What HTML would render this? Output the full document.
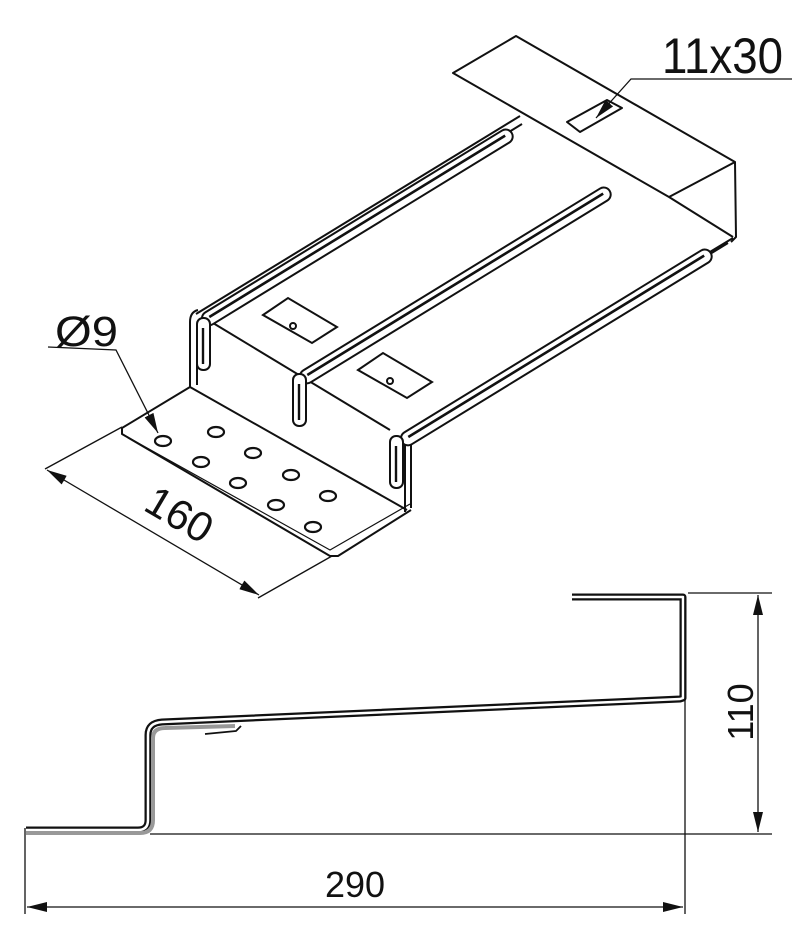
<!DOCTYPE html>
<html><head><meta charset="utf-8"><style>
html,body{margin:0;padding:0;background:#fff;}
svg{display:block;}
text{font-family:"Liberation Sans",sans-serif;fill:#111;}
</style></head><body>
<svg width="800" height="948" viewBox="0 0 800 948" xmlns="http://www.w3.org/2000/svg">
<defs>
<marker id="ar" viewBox="0 0 20 10" refX="20" refY="5" markerWidth="20" markerHeight="10" markerUnits="userSpaceOnUse" orient="auto-start-reverse">
<path d="M0,0 L20,5 L0,10 z" fill="#111"/></marker>
<g id="rib">
<rect x="0" y="-7" width="362" height="14" rx="7" fill="#fff" stroke="#111" stroke-width="2"/>
<line x1="8" y1="-1" x2="355" y2="-1" stroke="#111" stroke-width="2.6"/>
</g>
</defs>
<g fill="none" stroke="#111" stroke-width="2" stroke-linejoin="round">
<!-- top flap -->
<path d="M453,73 L516,36 L735,162 L669,197 Z" fill="#fff"/>
<path d="M735,162 L736,237 L731,242"/>
<path d="M669,197 L733,237"/>
<!-- slot on flap -->
<path d="M567,122 L607,100 L622,108 L580,132 Z" fill="#fff"/>
<!-- main plate edges -->
<path d="M196,314 L520,116"/>
<path d="M200,322 L522,124"/>
<path d="M733,238 L412,432"/>
<path d="M728,243 L410,438"/>
<!-- main plate front edge -->
<path d="M213,323 L390,430"/>
<!-- riser left -->
<path d="M190,322 Q190,312 198,310"/>
<path d="M190,322 L190,388"/>
<path d="M197,325 L197,385"/>
<!-- riser right -->
<path d="M405,440 L405,512"/>
<path d="M411,444 L411,508"/>
<!-- lower plate -->
<path d="M122,428 L190,387 L407,510"/>
<path d="M122,428 L122,434 L330,556 L338,556 L411,510"/>
<path d="M122,434 L330,550 L410,504" stroke-width="1.2"/>
</g>
<!-- ribs -->
<g transform="translate(203,322) rotate(-31.5)"><use href="#rib"/></g>
<g transform="translate(301,380) rotate(-31.5)"><use href="#rib"/></g>
<g transform="translate(402,442) rotate(-31.5)"><use href="#rib"/></g>
<!-- rib vertical parts -->
<g fill="#fff" stroke="#111" stroke-width="2">
<rect x="197" y="318" width="13" height="52" rx="6"/>
<rect x="293" y="374" width="13" height="52" rx="6"/>
<rect x="390" y="436" width="13" height="52" rx="6"/>
</g>
<g stroke="#111" stroke-width="2.4">
<line x1="203" y1="328" x2="203" y2="364"/>
<line x1="299" y1="384" x2="299" y2="420"/>
<line x1="396" y1="446" x2="396" y2="482"/>
</g>
<!-- slots on main plate -->
<g fill="#fff" stroke="#111" stroke-width="2">
<path d="M263,315 L288,298 L337,327 L312,343 Z"/>
<path d="M358,370 L383,353 L432,382 L407,398 Z"/>
<circle cx="293" cy="326" r="3"/>
<circle cx="390" cy="381" r="3"/>
</g>
<!-- holes -->
<g fill="#fff" stroke="#111" stroke-width="2.2">
<ellipse cx="163" cy="441" rx="8" ry="5"/>
<ellipse cx="216" cy="432" rx="8" ry="5"/>
<ellipse cx="201" cy="462" rx="8" ry="5"/>
<ellipse cx="253" cy="453" rx="8" ry="5"/>
<ellipse cx="238" cy="483" rx="8" ry="5"/>
<ellipse cx="291" cy="475" rx="8" ry="5"/>
<ellipse cx="276" cy="505" rx="8" ry="5"/>
<ellipse cx="328" cy="496" rx="8" ry="5"/>
<ellipse cx="313" cy="527" rx="8" ry="5"/>
</g>
<!-- dimension 160 -->
<g stroke="#111" stroke-width="1.3" fill="none">
<line x1="45" y1="469" x2="122" y2="427"/>
<line x1="258" y1="598" x2="332" y2="556"/>
<line x1="47" y1="470" x2="259" y2="595" marker-start="url(#ar)" marker-end="url(#ar)"/>
<polyline points="48,347 116,350 158,433" marker-end="url(#ar)"/>
<polyline points="792,79 631,79 596,118" marker-end="url(#ar)"/>
</g>
<text x="55" y="346" font-size="43" textLength="63" lengthAdjust="spacingAndGlyphs">Ø9</text>
<text x="662" y="73" font-size="50" textLength="121" lengthAdjust="spacingAndGlyphs">11x30</text>
<text transform="translate(172,527) rotate(30.5)" font-size="42" text-anchor="middle">160</text>
<!-- side profile -->
<g fill="none" stroke-linejoin="round">
<path d="M26,830 L138,830 Q148,830 148,820 L148,735 Q148,723 162,722 L680,699 L683,698 L683,597 L572,597" stroke="#111" stroke-width="7"/>
<path d="M26,830 L138,830 Q148,830 148,820 L148,735 Q148,723 162,722 L680,699 L683,698 L683,597 L572,597" stroke="#fff" stroke-width="2.5"/>
<path d="M26,833 L140,833 Q153,833 153,820 L153,738 Q153,728 165,728 L235,726" stroke="#999" stroke-width="4"/>
<path d="M205,734 L236,731 L241,726" stroke="#111" stroke-width="1.8"/>
</g>
<!-- dims side -->
<g stroke="#111" stroke-width="1.3" fill="none">
<line x1="150" y1="834" x2="772" y2="834"/>
<line x1="25" y1="828" x2="25" y2="914"/>
<line x1="685" y1="597" x2="685" y2="914"/>
<line x1="688" y1="593" x2="772" y2="593"/>
<line x1="27" y1="907" x2="683" y2="907" marker-start="url(#ar)" marker-end="url(#ar)"/>
<line x1="758" y1="595" x2="758" y2="832" marker-start="url(#ar)" marker-end="url(#ar)"/>
</g>
<text x="355" y="897" font-size="36" text-anchor="middle">290</text>
<text transform="translate(753,712) rotate(-90)" font-size="36" text-anchor="middle">110</text>
</svg>
</body></html>
